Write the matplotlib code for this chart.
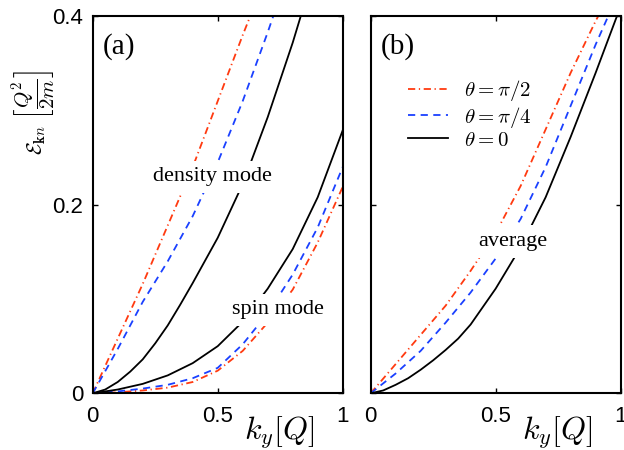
import matplotlib
matplotlib.use('Agg')
import matplotlib.pyplot as plt

plt.rcParams['mathtext.fontset'] = 'cm'
plt.rcParams['font.family'] = 'Liberation Sans'

# panel (a): density mode branches
k_den_red = [0, 0.1, 0.2, 0.3, 0.4, 0.5, 0.6, 0.63]
e_den_red = [0, 0.058, 0.116, 0.178, 0.24, 0.31, 0.38, 0.40]
k_den_blue = [0, 0.1, 0.2, 0.3, 0.4, 0.5, 0.6, 0.7, 0.722]
e_den_blue = [0, 0.047, 0.097, 0.14, 0.188, 0.245, 0.31, 0.383, 0.40]
k_den_black = [0, 0.05, 0.1, 0.15, 0.2, 0.25, 0.3, 0.35, 0.4, 0.5, 0.6, 0.7, 0.8, 0.832]
e_den_black = [0, 0.004, 0.012, 0.023, 0.036, 0.053, 0.072, 0.094, 0.117, 0.165, 0.222,
               0.293, 0.372, 0.40]

# panel (a): spin mode branches
k_spin = [0, 0.1, 0.2, 0.3, 0.4, 0.5, 0.6, 0.7, 0.8, 0.9, 1.0]
e_spin_red = [0, 0.001, 0.003, 0.006, 0.012, 0.024, 0.045, 0.075, 0.11, 0.16, 0.219]
e_spin_blue = [0, 0.002, 0.005, 0.009, 0.016, 0.027, 0.052, 0.085, 0.126, 0.176, 0.24]
e_spin_black = [0, 0.004, 0.01, 0.019, 0.032, 0.05, 0.076, 0.111, 0.153, 0.208, 0.279]

# panel (b): average
k_avg_red = [0, 0.1, 0.2, 0.3, 0.4, 0.5, 0.6, 0.7, 0.8, 0.9, 0.91]
e_avg_red = [0, 0.031, 0.062, 0.093, 0.13, 0.17, 0.22, 0.28, 0.34, 0.395, 0.40]
k_avg_blue = [0, 0.1, 0.2, 0.3, 0.4, 0.5, 0.6, 0.7, 0.8, 0.9, 0.95]
e_avg_blue = [0, 0.021, 0.045, 0.075, 0.107, 0.143, 0.185, 0.24, 0.305, 0.37, 0.40]
k_avg_black = [0, 0.05, 0.1, 0.15, 0.2, 0.25, 0.3, 0.35, 0.4, 0.5, 0.6, 0.7, 0.8, 0.9, 0.985]
e_avg_black = [0, 0.003, 0.009, 0.016, 0.025, 0.035, 0.046, 0.058, 0.073, 0.111, 0.155,
               0.208, 0.272, 0.34, 0.40]

labels = [r'$\theta=\pi/2$', r'$\theta=\pi/4$', r'$\theta=0$']

red = '#ff3a10'
blue = '#1a40ff'
lw = 1.3
ls_red = (0, (4, 2, 0.7, 2))
ls_blue = (0, (4, 3))

fig = plt.figure(figsize=(6.24, 4.5), dpi=100)
ax1 = fig.add_axes([0.1486, 0.126, 0.4006, 0.8378])
ax2 = fig.add_axes([0.594, 0.126, 0.4006, 0.8378])

ax1.plot(k_den_red, e_den_red, color=red, lw=lw, ls=ls_red)
ax1.plot(k_den_blue, e_den_blue, color=blue, lw=lw, ls=ls_blue)
ax1.plot(k_den_black, e_den_black, color='k', lw=lw)
ax1.plot(k_spin, e_spin_red, color=red, lw=lw, ls=ls_red)
ax1.plot(k_spin, e_spin_blue, color=blue, lw=lw, ls=ls_blue)
ax1.plot(k_spin, e_spin_black, color='k', lw=lw)

ax2.plot(k_avg_red, e_avg_red, color=red, lw=lw, ls=ls_red, label=labels[0])
ax2.plot(k_avg_blue, e_avg_blue, color=blue, lw=lw, ls=ls_blue, label=labels[1])
ax2.plot(k_avg_black, e_avg_black, color='k', lw=lw, label=labels[2])

box = dict(facecolor='white', edgecolor='none', pad=5)
ax1.text(0.477, 0.2295, 'density mode', family='Liberation Serif', fontsize=16,
         ha='center', va='center', bbox=box, zorder=5)
ax1.text(0.739, 0.0884, 'spin mode', family='Liberation Serif', fontsize=16,
         ha='center', va='center', bbox=box, zorder=5)
ax2.text(0.569, 0.161, 'average', family='Liberation Serif', fontsize=16,
         ha='center', va='center', bbox=box, zorder=5)
ax1.text(0.04, 0.3675, '(a)', family='Liberation Serif', fontsize=21, ha='left', va='center')
ax2.text(0.04, 0.3675, '(b)', family='Liberation Serif', fontsize=21, ha='left', va='center')

ax2.legend(loc='upper left', bbox_to_anchor=(0.15, 0.835), frameon=False,
           fontsize=15, handlelength=1.9, handletextpad=0.8, labelspacing=0.05,
           borderpad=0, borderaxespad=0)

for ax in (ax1, ax2):
    ax.set_xlim(0, 1)
    ax.set_ylim(0, 0.4)
    ax.set_xticks([0, 0.5, 1])
    ax.set_xticklabels(['0', '0.5', '1'])
    ax.set_yticks([0, 0.2, 0.4])
    ax.tick_params(direction='in', length=3.5, width=1, top=True, right=True,
                   labelsize=16, pad=7)
    ax.tick_params(axis='x', pad=9)
    for s in ax.spines.values():
        s.set_linewidth(1.5)
    ax.text(0.745, -0.105, r'$k_y[Q]$', transform=ax.transAxes, fontsize=23,
            ha='center', va='center')

ax1.set_yticklabels(['0', '0.2', '0.4'])
ax2.set_yticklabels([])
ax1.text(-0.235, 0.746, r'$\mathcal{E}_{\mathbf{k}n}\ \left[\dfrac{Q^2}{2m}\right]$',
         transform=ax1.transAxes, rotation=90, fontsize=15, ha='center', va='center')

fig.savefig('out.png', dpi=100)
